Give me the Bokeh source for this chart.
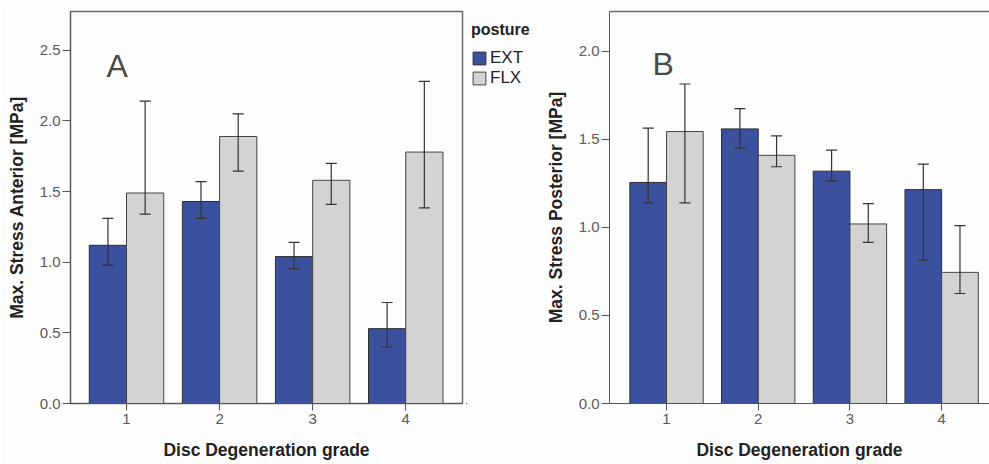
from bokeh.plotting import figure
from bokeh.models import (ColumnDataSource, Whisker, TeeHead, FixedTicker, PrintfTickFormatter,
                          Legend, LegendItem, Range1d, LinearAxis, Label)
from bokeh.layouts import row
from bokeh.embed import file_html
from bokeh.resources import INLINE

# ---- data ----
grades = [1, 2, 3, 4]
tick_labels = ["1", "2", "3", "4"]
postures = ["EXT", "FLX"]

ant_ext = [1.12, 1.43, 1.04, 0.53]
ant_ext_lo = [0.98, 1.31, 0.955, 0.40]
ant_ext_hi = [1.31, 1.57, 1.14, 0.715]
ant_flx = [1.49, 1.89, 1.58, 1.78]
ant_flx_lo = [1.34, 1.645, 1.41, 1.385]
ant_flx_hi = [2.14, 2.05, 1.70, 2.28]

post_ext = [1.256, 1.56, 1.32, 1.215]
post_ext_lo = [1.14, 1.45, 1.265, 0.815]
post_ext_hi = [1.565, 1.675, 1.44, 1.36]
post_flx = [1.545, 1.41, 1.02, 0.745]
post_flx_lo = [1.14, 1.345, 0.915, 0.625]
post_flx_hi = [1.815, 1.52, 1.135, 1.01]

ant_yticks = [0.0, 0.5, 1.0, 1.5, 2.0, 2.5]
post_yticks = [0.0, 0.5, 1.0, 1.5, 2.0]

BLUE = "#3B519E"
GRAY = "#D3D3D3"
EDGE = "#2E2E2E"
FONT = "Liberation Sans"
BG = "#FDFDFD"


def style(p, yticks, ylabel):
    p.background_fill_color = BG
    p.border_fill_color = BG
    p.xgrid.visible = False
    p.ygrid.visible = False
    p.xaxis.ticker = FixedTicker(ticks=grades)
    p.xaxis.major_label_overrides = {g: t for g, t in zip(grades, tick_labels)}
    p.yaxis.ticker = FixedTicker(ticks=yticks)
    p.yaxis.formatter = PrintfTickFormatter(format="%.1f")
    for ax in (p.xaxis[0], p.yaxis[0]):
        ax.minor_tick_line_color = None
        ax.major_tick_in = 0
        ax.major_tick_out = 8
        ax.axis_line_color = "#555555"
        ax.major_tick_line_color = "#555555"
        ax.major_label_text_font = FONT
        ax.major_label_text_font_size = "15px"
        ax.major_label_text_color = "#5a5a5a"
        ax.axis_label_text_font = FONT
        ax.axis_label_text_font_size = "17.5px"
        ax.axis_label_text_font_style = "bold"
        ax.axis_label_text_color = "#222222"
    p.xaxis.major_tick_out = 7
    p.xaxis.major_label_standoff = 3
    p.xaxis.axis_label_standoff = 13
    p.yaxis.major_label_standoff = 2
    p.yaxis.axis_label_standoff = 10
    p.xaxis.axis_label = "Disc Degeneration grade"
    p.yaxis.axis_label = ylabel


def bars(p, ext, ext_lo, ext_hi, flx, flx_lo, flx_hi, whiskers=True):
    xe = [g - 0.2 for g in grades]
    xf = [g + 0.2 for g in grades]
    se = ColumnDataSource(dict(x=xe, top=ext, lo=ext_lo, hi=ext_hi))
    sf = ColumnDataSource(dict(x=xf, top=flx, lo=flx_lo, hi=flx_hi))
    re = p.vbar(x="x", top="top", width=0.4, bottom=0, source=se,
                fill_color=BLUE, line_color=EDGE, line_width=1)
    rf = p.vbar(x="x", top="top", width=0.4, bottom=0, source=sf,
                fill_color=GRAY, line_color="#444444", line_width=1)
    if whiskers:
        for s in (se, sf):
            w = Whisker(base="x", upper="hi", lower="lo", source=s, level="overlay",
                        line_color="#333333", line_width=1.2,
                        upper_head=TeeHead(size=11, line_color="#333333", line_width=1.2),
                        lower_head=TeeHead(size=11, line_color="#333333", line_width=1.2))
            p.add_layout(w)
    return re, rf


# ---- panel A ----
pA = figure(width=466, height=464, output_backend="svg", toolbar_location=None,
            x_range=Range1d(0.398, 4.61), y_range=Range1d(0, 2.775),
            min_border_left=70, min_border_right=4, min_border_top=9, min_border_bottom=60)
style(pA, ant_yticks, "Max. Stress Anterior [MPa]")
pA.outline_line_color = "#6a6a6a"
pA.outline_line_width = 1.5
bars(pA, ant_ext, ant_ext_lo, ant_ext_hi, ant_flx, ant_flx_lo, ant_flx_hi)
pA.add_layout(Label(x=0.785, y=2.39, text="A", text_font=FONT, text_font_size="32px",
                    text_baseline="alphabetic", text_color="#4a4a4a"))

# ---- legend strip (bars of panel A re-used, kept out of view; only the legend shows) ----
pL = figure(width=74, height=464, output_backend="svg", toolbar_location=None,
            x_range=Range1d(100, 101), y_range=Range1d(100, 101),
            x_axis_type=None, y_axis_type=None,
            min_border_left=0, min_border_right=0, min_border_top=0, min_border_bottom=0)
pL.background_fill_color = BG
pL.border_fill_color = BG
pL.outline_line_color = None
pL.grid.visible = False
lg_ext, lg_flx = bars(pL, ant_ext, ant_ext_lo, ant_ext_hi, ant_flx, ant_flx_lo, ant_flx_hi,
                      whiskers=False)

legend = Legend(items=[LegendItem(label=postures[0], renderers=[lg_ext]),
                       LegendItem(label=postures[1], renderers=[lg_flx])],
                title="posture", location=(5, 315))
legend.title_text_font = FONT
legend.title_text_font_size = "16px"
legend.title_text_font_style = "bold"
legend.title_text_color = "#222222"
legend.title_standoff = 9
legend.label_text_font = FONT
legend.label_text_font_size = "17px"
legend.label_text_color = "#222222"
legend.glyph_width = 16
legend.glyph_height = 16
legend.label_standoff = 3
legend.label_height = 16
legend.spacing = -2
legend.padding = 0
legend.margin = 0
legend.border_line_color = None
legend.background_fill_alpha = 0
pL.add_layout(legend, "center")

# ---- panel B ----
pB = figure(width=449, height=464, output_backend="svg", toolbar_location=None,
            x_range=Range1d(0.378, 4.522), y_range=Range1d(0, 2.227),
            min_border_left=69, min_border_right=0, min_border_top=11, min_border_bottom=61)
style(pB, post_yticks, "Max. Stress Posterior [MPa]")
pB.outline_line_color = None
top_axis = LinearAxis(ticker=FixedTicker(ticks=[]), axis_line_color="#6a6a6a",
                      axis_line_width=1.5, major_tick_line_color=None, minor_tick_line_color=None)
pB.add_layout(top_axis, "above")
bars(pB, post_ext, post_ext_lo, post_ext_hi, post_flx, post_flx_lo, post_flx_hi)
pB.add_layout(Label(x=0.847, y=1.926, text="B", text_font=FONT, text_font_size="32px",
                    text_baseline="alphabetic", text_color="#4a4a4a"))

layout = row(pA, pL, pB)
open("out.html", "w").write(file_html(layout, INLINE))
